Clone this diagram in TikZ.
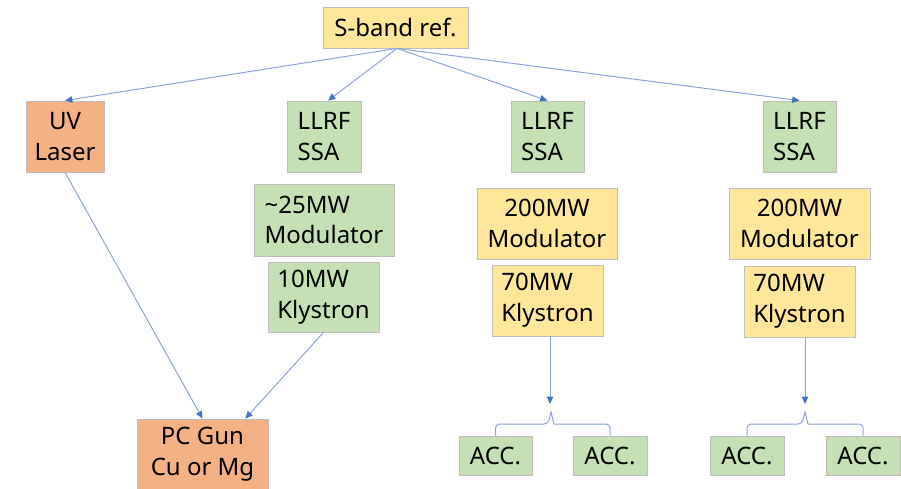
\documentclass[tikz,border=0pt]{standalone}
\usepackage{fontspec}
\setmainfont{Noto Sans}
\usetikzlibrary{arrows.meta,calc}

\definecolor{boxorange}{RGB}{244,177,131}
\definecolor{boxgreen}{RGB}{197,224,180}
\definecolor{boxyellow}{RGB}{255,230,153}
\definecolor{boxedge}{RGB}{190,190,190}
\definecolor{lineblue}{RGB}{140,165,215}
\definecolor{tipblue}{RGB}{68,114,196}

\tikzset{
  blk/.style={draw=boxedge, line width=0.6pt, inner sep=0pt, align=center,
    font=\fontsize{18}{23}\selectfont},
  sz/.style 2 args={minimum width=#1*0.75pt, minimum height=#2*0.75pt},
  lft/.style={align=left},
  orangebox/.style={blk, fill=boxorange},
  greenbox/.style={blk, fill=boxgreen},
  yellowbox/.style={blk, fill=boxyellow},
  feed/.style={draw=lineblue, line width=0.75pt,
    -{Triangle[length=5.5pt,width=4.8pt,color=tipblue]}},
  brace/.style={draw=lineblue, line width=0.75pt}
}

\begin{document}
\begin{tikzpicture}[x=0.75pt,y=-0.75pt]
\useasboundingbox (0,0) rectangle (901,489);

% reference source
\node[yellowbox, sz={145}{41}] (sband) at (395.5,27.5) {S-band ref.};

% photocathode line
\node[orangebox, sz={78}{71}] (uv) at (65,136.5) {UV\\Laser};
\node[orangebox, sz={131}{70}] (gun) at (202.5,454) {PC Gun\\Cu or Mg};

% gun RF station
\node[greenbox, lft, sz={74}{71}] (llrf1) at (324,136.5) {LLRF\\SSA};
\node[greenbox, lft, sz={140}{72}] (mod1) at (324,220) {\textasciitilde25MW\\Modulator};
\node[greenbox, lft, sz={111}{70}] (kly1) at (323.5,297) {10MW\\Klystron};

% accelerator RF station 1
\node[greenbox, lft, sz={73}{71}] (llrf2) at (547.5,136.5) {LLRF\\SSA};
\node[yellowbox, sz={140}{71}] (mod2) at (547,223.5) {200MW\\Modulator};
\node[yellowbox, lft, sz={111}{71}] (kly2) at (547.5,300.5) {70MW\\Klystron};
\node[greenbox, sz={73}{39}] (acc2a) at (495.5,455.5) {ACC.};
\node[greenbox, sz={74}{39}] (acc2b) at (610,455.5) {ACC.};

% accelerator RF station 2
\node[greenbox, lft, sz={73}{71}] (llrf3) at (799.5,136.5) {LLRF\\SSA};
\node[yellowbox, sz={141}{71}] (mod3) at (799.5,223.5) {200MW\\Modulator};
\node[yellowbox, lft, sz={111}{71}] (kly3) at (799.5,301.5) {70MW\\Klystron};
\node[greenbox, sz={74}{39}] (acc3a) at (747,455.5) {ACC.};
\node[greenbox, sz={74}{39}] (acc3b) at (863,455.5) {ACC.};

% reference distribution
\draw[feed] ($(sband.south)+(1.5,0)$) -- (uv.north);
\draw[feed] ($(sband.south)+(1.5,0)$) -- ($(llrf1.north)+(4,0)$);
\draw[feed] ($(sband.south)+(1.5,0)$) -- (llrf2.north);
\draw[feed] ($(sband.south)+(1.5,0)$) -- (llrf3.north);

% drive of the gun
\draw[feed] (uv.south) -- (gun.north);
\draw[feed] (kly1.south) -- ($(gun.north)!0.65!(gun.north east)$);

% klystron outputs split to two structures
\coordinate (tip2) at (550,404);
\coordinate (hub2) at (551,424);
\draw[feed] (kly2.south -| tip2) -- (tip2);
\draw[brace] (acc2a.north) [rounded corners=3] |- ($(hub2)+(-3,0)$) [sharp corners]
  -- ($(hub2)+(0,-12)$) -- ($(hub2)+(3,0)$) [rounded corners=3] -| (acc2b.north);

\coordinate (tip3) at (805,404);
\coordinate (hub3) at (805,424);
\draw[feed] (kly3.south -| tip3) -- (tip3);
\draw[brace] (acc3a.north) [rounded corners=3] |- ($(hub3)+(-3,0)$) [sharp corners]
  -- ($(hub3)+(0,-12)$) -- ($(hub3)+(3,0)$) [rounded corners=3] -| (acc3b.north);
\end{tikzpicture}
\end{document}
